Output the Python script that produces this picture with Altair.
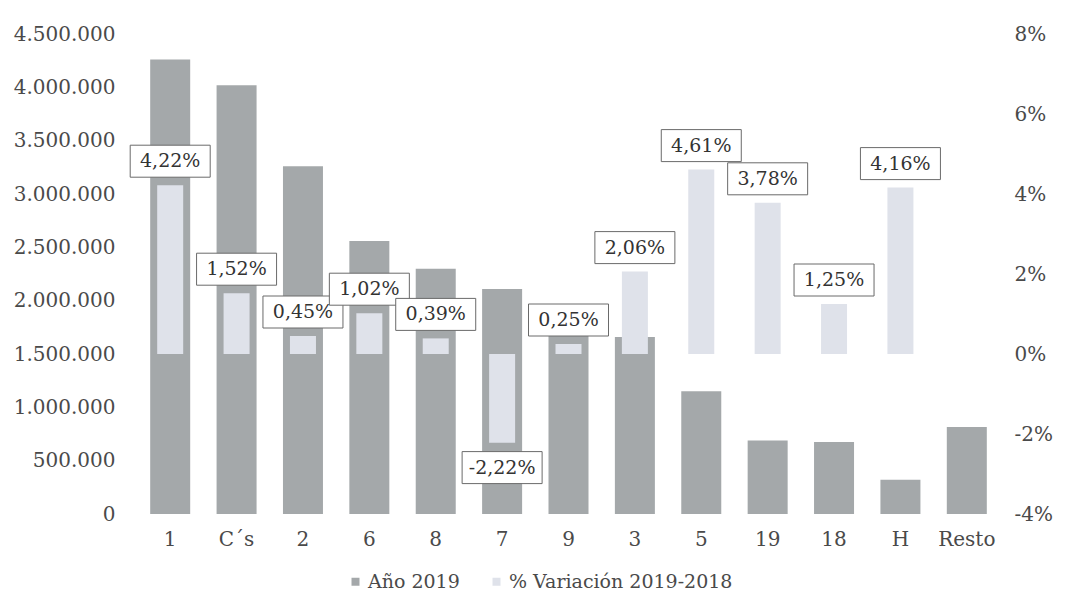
import altair as alt
import pandas as pd

categories = ["1", "C´s", "2", "6", "8", "7", "9", "3", "5", "19", "18", "H", "Resto"]
votos_2019 = [4260000, 4020000, 3260000, 2560000, 2300000, 2110000, 1720000, 1660000,
              1150000, 690000, 675000, 320000, 815000]
variacion = [4.22, 1.52, 0.45, 1.02, 0.39, -2.22, 0.25, 2.06, 4.61, 3.78, 1.25, 4.16, None]
left_ticks = [0, 500000, 1000000, 1500000, 2000000, 2500000, 3000000, 3500000, 4000000, 4500000]
right_ticks = [-4, -2, 0, 2, 4, 6, 8]

SERIES_A = "Año 2019"
SERIES_B = "% Variación 2019-2018"

df = pd.DataFrame({"cat": categories, "votos": votos_2019, "pct": variacion})

FONT = "DejaVu Serif"
TXT = "#4a4a4a"
DARK = "#a4a8aa"
LIGHT = "#dfe2ea"
FS = 20

x_enc = alt.X("cat:N", sort=categories, title=None,
              scale=alt.Scale(paddingInner=0.4, paddingOuter=0.2),
              axis=alt.Axis(labelAngle=0, ticks=False, domain=False, labelPadding=15,
                            labelFont=FONT, labelFontSize=FS, labelColor=TXT))

color_scale = alt.Scale(domain=[SERIES_A, SERIES_B], range=[DARK, LIGHT])
legend = alt.Legend(title=None, orient="none", direction="horizontal", legendX=209, legendY=538,
                    symbolType="square", symbolSize=64, symbolStrokeWidth=0,
                    labelFont=FONT, labelFontSize=19, labelColor=TXT, columnPadding=27,
                    labelOffset=3, labelLimit=400)

base = alt.Chart(df)

dark = base.mark_bar(width=40).encode(
    x=x_enc,
    y=alt.Y("votos:Q", title=None,
            scale=alt.Scale(domain=[0, 4500000], nice=False),
            axis=alt.Axis(values=left_ticks, grid=False, ticks=False, domain=False,
                          labelPadding=22, labelFont=FONT, labelFontSize=FS, labelColor=TXT,
                          labelExpr="replace(replace(format(datum.value, ',d'), ',', '.'), ',', '.')")),
    color=alt.Color("s:N", scale=color_scale, legend=legend),
).transform_calculate(s=f"'{SERIES_A}'")

pct_base = base.transform_filter("isValid(datum.pct)").transform_calculate(
    s=f"'{SERIES_B}'",
    lab="replace(replace(format(datum.pct, '.2f'), '.', ','), '\u2212', '-') + '%'",
    lpos="datum.pct >= 0 ? datum.pct + 0.6 : datum.pct - 0.62",
)

pct_axis = alt.Axis(orient="right", values=right_ticks, grid=False, ticks=False,
                    domain=False, labelPadding=14, labelFont=FONT, labelFontSize=FS,
                    labelColor=TXT, labelAlign="left", labelExpr="datum.value + '%'")
pct_scale = alt.Scale(domain=[-4, 8], nice=False)

light = pct_base.mark_bar(width=26).encode(
    x=x_enc,
    y=alt.Y("pct:Q", title=None, scale=pct_scale, axis=pct_axis),
    y2=alt.datum(0),
    color=alt.Color("s:N", scale=color_scale, legend=legend),
)

box = pct_base.mark_point(
    shape="M-1,-0.4L1,-0.4L1,0.4L-1,0.4Z", filled=False, fill="white", fillOpacity=1,
    stroke="#6a6a6a", strokeWidth=1, opacity=1, size=6400,
).encode(
    x=x_enc,
    y=alt.Y("lpos:Q", title=None, scale=pct_scale, axis=pct_axis),
)

txt = pct_base.mark_text(font=FONT, fontSize=19, color="#333333", baseline="middle",
                         align="center").encode(
    x=x_enc,
    y=alt.Y("lpos:Q", title=None, scale=pct_scale, axis=pct_axis),
    text="lab:N",
)

pct_layer = alt.layer(light, box, txt)

chart = alt.layer(dark, pct_layer).resolve_scale(y="independent").properties(
    width=863, height=480, padding={"top": 16, "left": 5, "right": 0, "bottom": 5}
).configure(background="white").configure_view(stroke=None)

chart.save("out.html", embed_options={"renderer": "svg", "actions": False})
